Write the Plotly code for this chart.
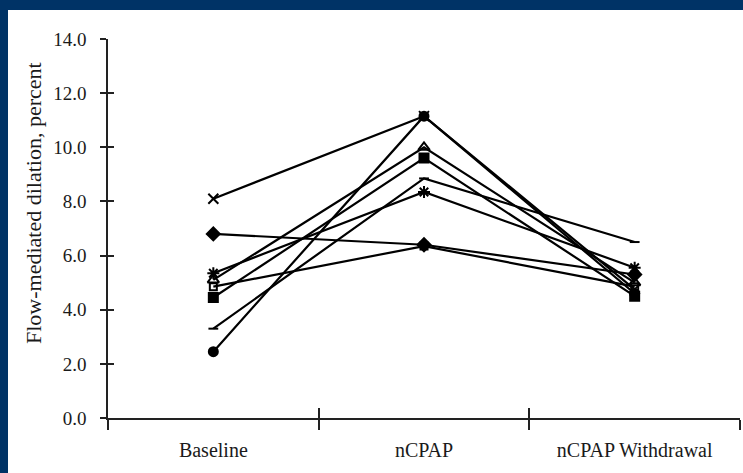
import plotly.graph_objects as go

categories = ["Baseline", "nCPAP", "nCPAP Withdrawal"]

# one subject per series (values in percent)
s_x        = [8.1, 11.15, 4.75]
s_diamond  = [6.8, 6.4, 5.3]
s_star     = [5.35, 8.35, 5.55]
s_triangle = [5.1, 10.0, 5.0]
s_open_sq  = [4.85, 6.35, 4.85]
s_square   = [4.45, 9.6, 4.5]
s_dash     = [3.3, 8.85, 6.5]
s_circle   = [2.45, 11.15, 4.6]

y_ticks = [0, 2, 4, 6, 8, 10, 12, 14]
y_title = "Flow-mediated dilation, percent"

series = [
    (s_circle, "circle", 9),
    (s_x, "x-thin", 10),
    (s_diamond, "diamond", 10),
    (s_star, "asterisk", 10),
    (s_triangle, "triangle-up-open", 10),
    (s_open_sq, "square-open", 7),
    (s_square, "square", 9),
    (s_dash, "line-ew", 7),
]

fig = go.Figure()
for vals, sym, sz in series:
    fig.add_trace(go.Scatter(
        x=categories, y=vals, mode="lines+markers",
        line=dict(color="#000000", width=2.2),
        marker=dict(symbol=sym, size=sz, color="#000000",
                    line=dict(color="#000000", width=2)),
        showlegend=False, hoverinfo="skip",
    ))

# invisible trace to activate overlay axes (for crossing tick marks)
fig.add_trace(go.Scatter(x=categories, y=[None] * 3, xaxis="x2", yaxis="y2",
                         showlegend=False, hoverinfo="skip", mode="markers"))

serif = "Liberation Serif, Times New Roman, serif"
fig.update_layout(
    width=743, height=473,
    margin=dict(l=108, r=3, t=39, b=55, autoexpand=False),
    paper_bgcolor="white", plot_bgcolor="white",
    font=dict(family=serif, color="#1a1a1a"),
    xaxis=dict(
        type="category", categoryarray=categories, range=[-0.5, 2.5],
        tickson="boundaries", ticks="outside", ticklen=10, tickwidth=1.5,
        tickcolor="#222", showline=True, linecolor="#222", linewidth=2,
        showgrid=False, zeroline=False, tickfont=dict(size=20, family=serif),
        ticklabelstandoff=13, automargin=False,
    ),
    yaxis=dict(
        range=[0, 14], tickvals=y_ticks, tickformat=".1f",
        ticks="outside", ticklen=6, tickwidth=1.5, tickcolor="#222",
        showline=True, linecolor="#222", linewidth=1.5,
        showgrid=False, zeroline=False, tickfont=dict(size=19, family=serif),
        ticklabelstandoff=10, automargin=False,
    ),
    xaxis2=dict(
        type="category", categoryarray=categories, range=[-0.5, 2.5],
        overlaying="x", anchor="y", side="bottom",
        tickson="boundaries", ticks="inside", ticklen=10, tickwidth=1.5,
        tickcolor="#222", showticklabels=False, showline=False,
        showgrid=False, zeroline=False, automargin=False,
    ),
    yaxis2=dict(
        range=[0, 14], tickvals=y_ticks, overlaying="y", anchor="x",
        side="left", ticks="inside", ticklen=6, tickwidth=1.5,
        tickcolor="#222", showticklabels=False, showline=False,
        showgrid=False, zeroline=False, automargin=False,
    ),
    annotations=[
        dict(text=y_title, xref="paper", yref="paper",
             x=(33 - 108) / 632, y=(418 - 203) / 379,
             xanchor="center", yanchor="middle", textangle=-90,
             showarrow=False, font=dict(size=22, family=serif, color="#1a1a1a")),
    ],
    shapes=[
        dict(type="rect", xref="paper", yref="paper",
             x0=-0.2, x1=(8 - 108) / 632, y0=-0.2, y1=1.2,
             fillcolor="rgb(0,51,102)", line=dict(width=0), layer="below"),
        dict(type="rect", xref="paper", yref="paper",
             x0=-0.2, x1=1.1, y0=(418 - 10) / 379, y1=1.2,
             fillcolor="rgb(0,51,102)", line=dict(width=0), layer="below"),
    ],
)

fig.write_html("out.html",
               config={"displayModeBar": False},
               post_script="document.body.style.margin='0px';"
                           "document.body.style.overflow='hidden';")
